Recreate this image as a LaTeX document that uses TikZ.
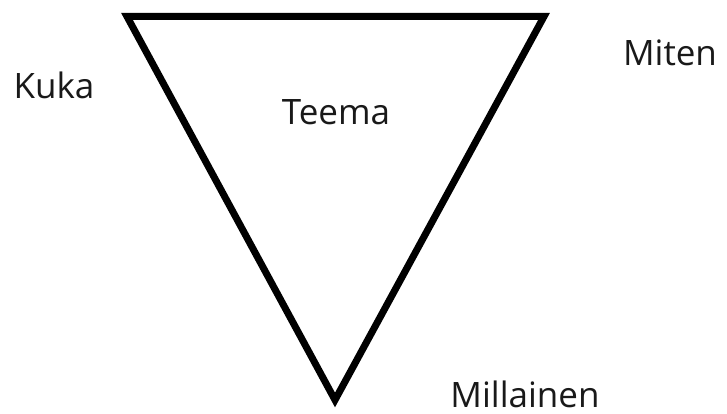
\documentclass[tikz,border=0pt]{standalone}
\usepackage{fontspec}
\setmainfont{Open Sans}
\tikzset{
  lbl/.style={anchor=base, inner sep=0pt, text depth=0pt, font=\fontsize{35}{42}\selectfont, text=black!90},
  tri/.style={draw=black, line width=7pt, line join=miter}
}
\begin{document}
\begin{tikzpicture}[x=1pt,y=-1pt]
\useasboundingbox (0,0) rectangle (727,414);
\coordinate (tl) at (127,16.5);
\coordinate (tr) at (544,16.5);
\coordinate (bt) at (335,400);
\draw[tri] (tl) -- (tr) -- (bt) -- cycle;
\node[lbl] (kuka) at (54,99) {Kuka};
\node[lbl] (teema) at (336,125) {Teema};
\node[lbl] (miten) at (670,66) {Miten};
\node[lbl] (millainen) at (525,407) {Millainen};
\end{tikzpicture}
\end{document}
